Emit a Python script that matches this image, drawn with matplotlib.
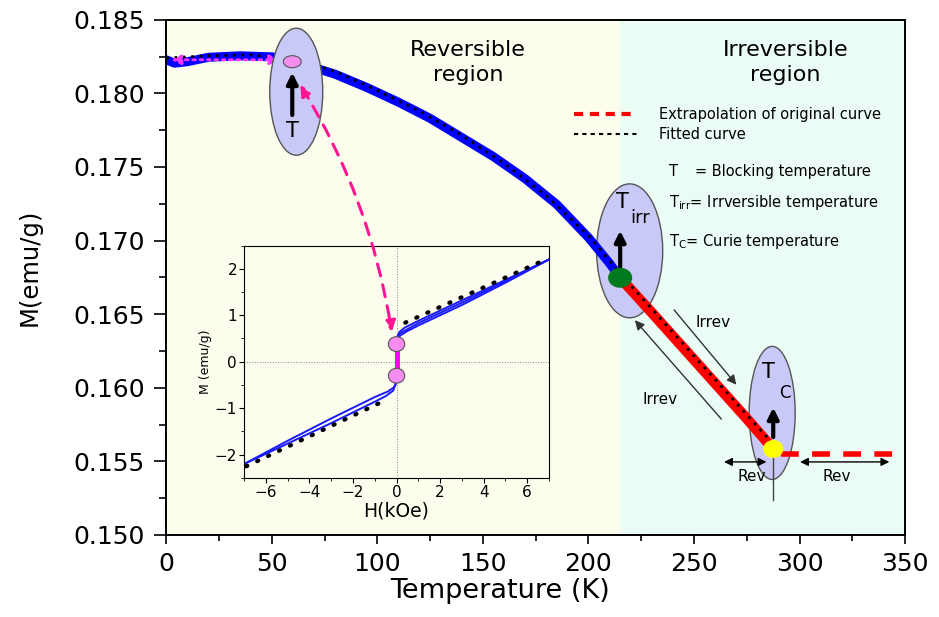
import numpy as np
import matplotlib.pyplot as plt
from matplotlib.patches import Ellipse, ConnectionPatch
from matplotlib.lines import Line2D

plt.rcParams['font.family'] = ['DejaVu Sans']

# main M(T) curve (reversible part, blue)
temp_blue = [0, 4, 10, 20, 35, 50, 60, 70, 80, 95, 110, 125, 140, 155, 170, 185, 200, 210, 215]
m_blue = [0.18228, 0.18205, 0.18215, 0.18245, 0.18255, 0.18248, 0.18220, 0.18175, 0.18130,
          0.18040, 0.17940, 0.17830, 0.17700, 0.17570, 0.17420, 0.17245, 0.17020, 0.16845, 0.16747]

# irreversible part (red)
temp_red = [215, 230, 245, 260, 275, 287.5]
m_red = [0.16747, 0.16510, 0.16270, 0.16030, 0.15790, 0.15584]

# extrapolation of original curve
temp_extra = [291, 345]
m_extra = [0.1555, 0.1555]

# fitted curve
temp_fit = [0, 20, 40, 60, 80, 100, 120, 140, 160, 180, 200, 215, 230, 250, 270, 287]
m_fit = [0.18240, 0.18255, 0.18262, 0.18235, 0.18150, 0.18020, 0.17880, 0.17715, 0.17525,
         0.17305, 0.17035, 0.16775, 0.16535, 0.16215, 0.15895, 0.15625]

# special temperatures
t_block, m_block = 59.7, 0.18215
t_irr, m_irr = 215.0, 0.16747
t_curie, m_curie = 287.5, 0.15584
t_split = 215

# inset hysteresis loop M(H)
h_desc = [7, 5, 3, 1, 0.4, 0.15, 0.05, 0.0, -0.03, -0.15, -0.5, -1, -3, -5, -7]
m_desc = [2.2, 1.76, 1.32, 0.88, 0.74, 0.65, 0.56, 0.42, -0.45, -0.62, -0.74, -0.86, -1.32, -1.76, -2.2]
h_asc = [-7, -5, -3, -1, -0.4, -0.15, -0.05, 0.0, 0.03, 0.15, 0.5, 1, 3, 5, 7]
m_asc = [-2.2, -1.70, -1.22, -0.76, -0.64, -0.56, -0.50, -0.42, 0.45, 0.56, 0.66, 0.78, 1.22, 1.70, 2.2]
h_asc2 = [0.03, 0.15, 0.5, 1, 3, 5, 7]
m_asc2 = [0.50, 0.61, 0.70, 0.83, 1.27, 1.73, 2.2]
h_fit_pos = [0.4, 6.7]
m_fit_pos = [0.84, 2.17]
h_fit_neg = [-6.9, -0.7]
m_fit_neg = [-2.25, -0.87]
m_remanence = [0.38, -0.30]

yellow_bg = '#fdfdee'
mint_bg = '#eafcf4'
ell_face = '#c9c9f7'

fig = plt.figure(figsize=(9.39, 6.17), dpi=100)
ax = fig.add_axes([0.177, 0.133, 0.787, 0.835])
ax.axvspan(0, t_split, color=yellow_bg, zorder=0)
ax.axvspan(t_split, 350, color=mint_bg, zorder=0)

# ellipses behind the curve (Tirr, Tc)
for cx, cy, w, h in [(219.5, 0.16930, 31.3, 0.00910), (287.0, 0.15829, 21.8, 0.00904)]:
    ax.add_patch(Ellipse((cx, cy), w, h, facecolor=ell_face, edgecolor='#555555', lw=1, zorder=1))

ax.plot(temp_blue, m_blue, color='#0000ff', lw=6.5, solid_capstyle='round', zorder=2)
ax.plot(temp_red, m_red, color='#ff0000', lw=7.5, zorder=2)
ax.plot(temp_extra, m_extra, color='#ff0000', lw=4, dashes=(3.2, 2.4), zorder=2)
ax.plot(temp_fit, m_fit, color='black', lw=2, linestyle=(0, (1, 2)), zorder=3)

# pink double arrow at low temperature
ax.annotate('', xy=(1, 0.18228), xytext=(55, 0.18228),
            arrowprops=dict(arrowstyle='<|-|>', color='#ff33ff', lw=2, ls=':',
                            mutation_scale=14), zorder=4)

# blocking-temperature ellipse sits over the curve
ax.add_patch(Ellipse((61.6, 0.18011), 25.1, 0.00863, facecolor=ell_face, edgecolor='#555555', lw=1, zorder=5))

ax.add_patch(Ellipse((t_block, m_block), 8.5, 0.00082, facecolor='#f58cf0', edgecolor='#555555', lw=0.8, zorder=7))
ax.add_patch(Ellipse((t_irr, m_irr), 11.4, 0.00136, facecolor='#007a1e', edgecolor='none', zorder=7))
ax.add_patch(Ellipse((t_curie, m_curie), 9.5, 0.00122, facecolor='#ffff00', edgecolor='none', zorder=7))

arrow_kw = dict(arrowstyle='-|>', color='black', lw=3, mutation_scale=16)
ax.annotate('', xy=(t_block, 0.18160), xytext=(t_block, 0.17834), arrowprops=arrow_kw, zorder=6)
ax.annotate('', xy=(t_irr, 0.17086), xytext=(t_irr, 0.16801), arrowprops=arrow_kw, zorder=6)
ax.annotate('', xy=(t_curie, 0.15884), xytext=(t_curie, 0.15646), arrowprops=arrow_kw, zorder=6)

ax.text(t_block, 0.17746, 'T', fontsize=15, ha='center', va='center', zorder=8)
ax.text(216.0, 0.17263, 'T', fontsize=15, ha='center', va='center', zorder=8)
ax.text(224.5, 0.17154, 'irr', fontsize=13, ha='center', va='center', zorder=8)
ax.text(285.1, 0.16108, 'T', fontsize=15, ha='center', va='center', zorder=8)
ax.text(293.2, 0.15965, 'C', fontsize=12, ha='center', va='center', zorder=8)

# Tc vertical guide and Rev / Irrev arrows
ax.plot([t_curie, t_curie], [0.15544, 0.15238], color='#444444', lw=1, zorder=4)
thin_kw = dict(arrowstyle='<|-|>', color='black', lw=1, mutation_scale=12)
ax.annotate('', xy=(262.9, 0.15496), xytext=(285.6, 0.15496), arrowprops=thin_kw)
ax.annotate('', xy=(298.9, 0.15496), xytext=(343.8, 0.15496), arrowprops=thin_kw)
ax.text(277.1, 0.15394, 'Rev', fontsize=11, ha='center', va='center', zorder=8)
ax.text(317.8, 0.15394, 'Rev', fontsize=11, ha='center', va='center')
irr_kw = dict(arrowstyle='-|>', color='#333333', lw=1, mutation_scale=14)
ax.annotate('', xy=(270.9, 0.16006), xytext=(239.7, 0.16543), arrowprops=irr_kw)
ax.annotate('', xy=(221.1, 0.16473), xytext=(263.8, 0.15773), arrowprops=irr_kw)
ax.text(259.1, 0.16441, 'Irrev', fontsize=11, ha='center', va='center')
ax.text(233.9, 0.15917, 'Irrev', fontsize=11, ha='center', va='center')

# region labels
ax.text(143.0, 0.18208, 'Reversible\nregion', fontsize=16, ha='center', va='center', linespacing=1.3)
ax.text(293.2, 0.18208, 'Irreversible\nregion', fontsize=16, ha='center', va='center', linespacing=1.3)

# definitions
ax.text(238.2, 0.17467, 'T', fontsize=10.5, va='center')
ax.text(250.5, 0.17467, '= Blocking temperature', fontsize=10.5, va='center')
ax.text(238.2, 0.17256, r'T$_{\mathregular{irr}}$= Irrversible temperature', fontsize=10.5, va='center')
ax.text(238.2, 0.16991, r'T$_{\mathregular{C}}$= Curie temperature', fontsize=10.5, va='center')

handles = [Line2D([], [], color='#ff0000', lw=3, dashes=(2.2, 1.6)),
           Line2D([], [], color='black', lw=1.5, linestyle=(0, (2, 2)))]
ax.legend(handles, ['Extrapolation of original curve', 'Fitted curve'], loc='upper left',
          bbox_to_anchor=(0.604, 0.838), bbox_transform=fig.transFigure, frameon=False,
          fontsize=10.5, handlelength=4.3, handletextpad=1.5, labelspacing=0.3, borderpad=0)

ax.set_xlim(0, 350)
ax.set_ylim(0.150, 0.185)
ax.set_xticks(np.arange(0, 351, 50))
ax.set_xticks(np.arange(25, 350, 50), minor=True)
ax.set_yticks(np.arange(0.150, 0.1851, 0.005))
ax.set_yticks(np.arange(0.1525, 0.185, 0.005), minor=True)
ax.yaxis.set_major_formatter(plt.FormatStrFormatter('%.3f'))
ax.tick_params(axis='x', which='major', direction='out', length=6.5, width=1.2, labelsize=18, pad=6)
ax.tick_params(axis='x', which='minor', direction='out', length=4.5, width=1.2)
ax.tick_params(axis='y', which='major', direction='out', length=8.5, width=1.2, labelsize=18, pad=7)
ax.tick_params(axis='y', which='minor', direction='out', length=5, width=1.2)
for s in ax.spines.values():
    s.set_linewidth(1.4)
ax.set_xlabel('Temperature (K)', fontsize=19.5)
ax.xaxis.set_label_coords(0.452, -0.083)
ax.set_ylabel('M(emu/g)', fontsize=17.5)
ax.yaxis.set_label_coords(-0.169, 0.52)

# inset
ins = fig.add_axes([0.2599, 0.2253, 0.3248, 0.3768])
ins.set_facecolor(yellow_bg)
ins.axhline(0, color='#888888', lw=0.7, ls=':')
ins.axvline(0, color='#888888', lw=0.7, ls=':')
ins.plot(h_desc, m_desc, color='#1a1aff', lw=1.4)
ins.plot(h_asc, m_asc, color='#1a1aff', lw=1.4)
ins.plot(h_asc2, m_asc2, color='#1a1aff', lw=1.4)
ins.plot(h_fit_pos, m_fit_pos, color='black', lw=3, linestyle=(0, (0.3, 2.6)), dash_capstyle='round')
ins.plot(h_fit_neg, m_fit_neg, color='black', lw=3, linestyle=(0, (0.3, 2.6)), dash_capstyle='round')
ins.plot([0, 0], m_remanence, color='#ff00ff', lw=3.5, zorder=4)
for mr in m_remanence:
    ins.add_patch(Ellipse((0, mr), 0.75, 0.32, facecolor='#f58cf0', edgecolor='#555555', lw=0.8, zorder=5))
ins.set_xlim(-7, 7)
ins.set_ylim(-2.5, 2.5)
ins.set_xticks([-6, -4, -2, 0, 2, 4, 6])
ins.set_xticks(np.arange(-7, 7.1, 1), minor=True)
ins.set_yticks([-2, -1, 0, 1, 2])
ins.set_yticks(np.arange(-2.5, 2.6, 0.5), minor=True)
ins.tick_params(which='major', direction='out', length=3.5, labelsize=11, pad=1.5)
ins.tick_params(which='minor', direction='out', length=2)
ins.set_xlabel('H(kOe)', fontsize=13.5)
ins.xaxis.set_label_coords(0.5, -0.1)
ins.set_ylabel('M (emu/g)', fontsize=9, labelpad=2)

# pink dashed arrow linking the blocking point to the inset loop
con = ConnectionPatch(xyA=(63.5, 0.18058), coordsA=ax.transData, xyB=(-0.22, 0.64), coordsB=ins.transData,
                      arrowstyle='<|-|>', color='#ff1493', lw=2.2, ls=(0, (4, 3)),
                      mutation_scale=16, connectionstyle='arc3,rad=-0.1')
fig.add_artist(con)

fig.savefig('out.png', dpi=100)
